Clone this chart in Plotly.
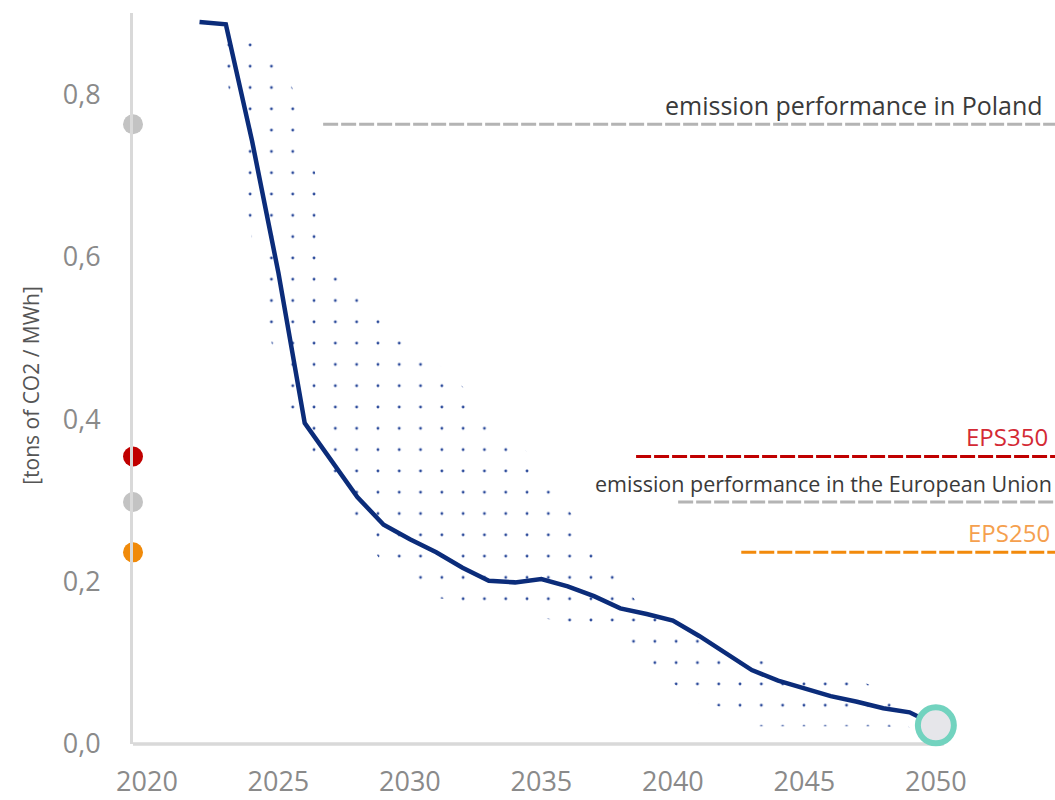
import plotly.graph_objects as go

# ---- data ----
years = list(range(2022, 2051))
emission = [0.889, 0.886, 0.742, 0.580, 0.395, 0.350, 0.304, 0.270, 0.252, 0.236,
            0.217, 0.201, 0.199, 0.203, 0.194, 0.182, 0.167, 0.160, 0.152, 0.133,
            0.112, 0.091, 0.078, 0.068, 0.059, 0.052, 0.044, 0.039, 0.023]

band_years = [2022.9, 2023, 2024, 2025, 2026, 2027, 2028, 2029, 2030, 2031, 2032, 2033,
              2034, 2035, 2036, 2037, 2038, 2039, 2040, 2041, 2042, 2043, 2044, 2045,
              2046, 2047, 2048, 2049]
band_upper = [0.875, 0.875, 0.875, 0.85, 0.77, 0.60, 0.565, 0.52, 0.49, 0.47, 0.44, 0.40,
              0.375, 0.34, 0.29, 0.245, 0.20, 0.16, 0.145, 0.133, 0.12, 0.105, 0.098, 0.09,
              0.084, 0.08, 0.065, 0.02]
band_lower = [0.84, 0.83, 0.62, 0.45, 0.37, 0.33, 0.27, 0.22, 0.205, 0.18, 0.175, 0.175,
              0.175, 0.155, 0.15, 0.15, 0.13, 0.10, 0.075, 0.05, 0.045, 0.022, 0.022, 0.022,
              0.022, 0.022, 0.022, 0.02]

ref_labels = ["emission performance in Poland", "EPS350",
              "emission performance in the European Union", "EPS250"]
ref_values = [0.763, 0.354, 0.298, 0.236]
ref_start = [2026.7, 2038.6, 2040.2, 2042.6]
ref_line_colors = ["#b4b4b4", "#c00000", "#b4b4b4", "#f28a0c"]
ref_text_colors = ["#3a3a3a", "#d42a35", "#3a3a3a", "#f5a04e"]
ref_font_sizes = [25, 24, 21.5, 24]
ref_yshift = [0, 1, 2, 1]
ref_xshift = [-10, -5, -1, -3]

dot_values = [0.763, 0.354, 0.298, 0.236]
dot_colors = ["#c3c3c3", "#c00000", "#c3c3c3", "#f08a0a"]

ytick_vals = [0.0, 0.2, 0.4, 0.6, 0.8]
xtick_vals = [2020, 2025, 2030, 2035, 2040, 2045, 2050]

X_MIN, X_MAX = 2019.47, 2054.53
X_AXIS_END = 2050.3
FONT = "Open Sans"

fig = go.Figure()

# dotted band
fig.add_trace(go.Scatter(x=band_years, y=band_lower, mode="lines",
                         line=dict(width=0, color="rgba(0,0,0,0)"),
                         hoverinfo="skip", showlegend=False))
fig.add_trace(go.Scatter(x=band_years, y=band_upper, mode="lines",
                         line=dict(width=0, color="rgba(0,0,0,0)"),
                         fill="tonexty", fillcolor="rgba(0,0,0,0)",
                         fillpattern=dict(shape=".", size=21.3, solidity=0.014,
                                          fgcolor="#2b4a9a", bgcolor="rgba(0,0,0,0)",
                                          fillmode="replace"),
                         hoverinfo="skip", showlegend=False))

# reference lines
for lab, v, s, lc in zip(ref_labels, ref_values, ref_start, ref_line_colors):
    fig.add_trace(go.Scatter(x=[s, X_MAX], y=[v, v], mode="lines",
                             line=dict(color=lc, width=3, dash="15px,3px"),
                             hoverinfo="skip", showlegend=False, cliponaxis=False))

# axis x-line (bottom), not clipped
fig.add_shape(type="line", x0=0, x1=(X_AXIS_END - X_MIN) / (X_MAX - X_MIN),
              y0=0, y1=0, xref="paper", yref="paper",
              line=dict(color="#d9d9d9", width=3.5), layer="below")

# main curve
fig.add_trace(go.Scatter(x=years, y=emission, mode="lines",
                         line=dict(color="#0b2c7a", width=4.5),
                         showlegend=False, cliponaxis=False))
# end marker
fig.add_trace(go.Scatter(x=[years[-1]], y=[emission[-1]], mode="markers",
                         marker=dict(size=36, color="#e6e6ea",
                                     line=dict(color="#72d3bf", width=6)),
                         showlegend=False, cliponaxis=False))

# dots on y axis
fig.add_trace(go.Scatter(x=[X_MIN] * len(dot_values), y=dot_values, mode="markers",
                         marker=dict(size=20, color=dot_colors),
                         showlegend=False, cliponaxis=False))

# labels
for lab, v, tc, fs, ys, xs in zip(ref_labels, ref_values, ref_text_colors,
                                  ref_font_sizes, ref_yshift, ref_xshift):
    fig.add_annotation(x=1, xref="paper", y=v, yref="y", text=lab, showarrow=False,
                       xanchor="right", yanchor="bottom", yshift=ys, xshift=xs,
                       font=dict(family=FONT, size=fs, color=tc))

fig.add_annotation(x=-0.1106, xref="paper", y=0.49, yref="paper",
                   text="[tons of CO2 / MWh]", textangle=-90, showarrow=False,
                   xanchor="center", yanchor="middle",
                   font=dict(family=FONT, size=21, color="#555555"))

fig.update_layout(
    width=1055, height=800,
    margin=dict(l=133, r=0, t=13, b=56, autoexpand=False),
    paper_bgcolor="white", plot_bgcolor="white",
    separators=",.",
    font=dict(family=FONT),
    xaxis=dict(range=[X_MIN, X_MAX], tickvals=xtick_vals, showgrid=False,
               zeroline=False, showline=False, ticks="", automargin=False,
               ticklabelstandoff=19,
               tickfont=dict(family=FONT, size=27, color="#8a8a8a")),
    yaxis=dict(range=[0, 0.9], tickvals=ytick_vals, tickformat=".1f", showgrid=False,
               zeroline=False, showline=True, linecolor="#d9d9d9", linewidth=3,
               ticks="", ticklabelstandoff=24, automargin=False,
               tickfont=dict(family=FONT, size=27, color="#8a8a8a")),
)

fig.write_html("out.html", config={"displayModeBar": False},
               post_script="document.body.style.margin='0';"
                           "document.body.style.overflow='hidden';")
